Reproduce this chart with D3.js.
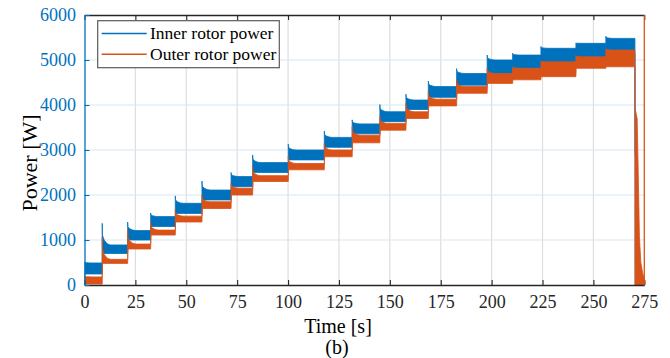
<!DOCTYPE html>
<html>
<head>
<meta charset="utf-8">
<script src="https://cdn.jsdelivr.net/npm/d3@7"></script>
<style>
  html, body { margin: 0; padding: 0; background: #fff; }
  svg { display: block; }
  text { font-family: "Liberation Serif", "Times New Roman", serif; }
</style>
</head>
<body>
<svg id="chart" width="670" height="358"></svg>
<script>
// Axis ticks
const timeTicks = [0, 25, 50, 75, 100, 125, 150, 175, 200, 225, 250, 275];
const powerTicks = [0, 1000, 2000, 3000, 4000, 5000, 6000];

// Load steps: start time of each plateau [s]
const stepTimes = [0, 8.7, 21.2, 32.5, 44.6, 57.7, 72.0, 82.6, 100.1, 117.8, 131.5,
                   145.1, 157.9, 168.9, 182.8, 197.8, 210.3, 224.2, 241.4, 256.1];
const stopTime = 270.4;

// Inner rotor power band per plateau [W]: upper edge, lower edge, spike at step
const innerTop    = [490, 890, 1210, 1520, 1815, 2110, 2410, 2720, 3000, 3280, 3580,
                     3850, 4110, 4410, 4700, 5000, 5110, 5260, 5370, 5480];
const innerBottom = [245, 700, 1000, 1300, 1590, 1890, 2185, 2500, 2780, 3060, 3360,
                     3630, 3900, 4170, 4440, 4700, 4815, 4930, 5040, 5150];
const innerPeak   = [520, 1370, 1400, 1600, 1980, 2310, 2500, 2890, 3130, 3420, 3670,
                     4010, 4240, 4530, 4810, 5110, 5150, 5300, 5380, 5530];

// Outer rotor power band per plateau [W]
const outerTop    = [180, 570, 910, 1220, 1530, 1850, 2150, 2430, 2700, 3000, 3330,
                     3590, 3850, 4130, 4410, 4700, 4815, 4960, 5070, 5220];
const outerBottom = [20, 480, 800, 1110, 1400, 1700, 2000, 2300, 2560, 2850, 3160,
                     3440, 3700, 3980, 4260, 4480, 4560, 4630, 4815, 4850];
const outerPeak   = [200, 1060, 1220, 1400, 1670, 2000, 2260, 2630, 2850, 3150, 3520,
                     3740, 4040, 4300, 4560, 4820, 4850, 4980, 5100, 5250];

// Shut-down transient after the last plateau [s] / [W]
const tailTimes    = [270.45, 271.5, 272.0, 272.6, 273.3, 274.2, 275.2];
const innerTailTop = [3000, 2200, 1300, 600, 300, 150, 60];
const outerTailTop = [3930, 3700, 2550, 1070, 500, 270, 100];

// Decay of the overshoot after each step: time offset [s], share of (peak - top)
const overshoot = [
  { dt: 0.0, k: 1.0 },
  { dt: 0.15, k: 0.45 },
  { dt: 1.0, k: 0.22 },
  { dt: 2.5, k: 0.05 },
  { dt: 4.0, k: 0.0 }
];

const blue = "#0072BD";
const orange = "#D95319";
const serif = "Liberation Serif, Times New Roman, serif";

const svg = d3.select("#chart");
const pLeft = 84.5, pRight = 644.3, pTop = 15, pBottom = 285;

const x = d3.scaleLinear().domain([0, 275]).range([pLeft, pRight]);
const y = d3.scaleLinear().domain([0, 6000]).range([pBottom, pTop]);

// Envelope table (t, hi, lo) for one series
function envelope(tops, bottoms, peaks, tailTops) {
  const rows = [];
  stepTimes.forEach((ts, i) => {
    const te = i + 1 < stepTimes.length ? stepTimes[i + 1] : stopTime;
    const prevLo = i > 0 ? bottoms[i - 1] : 0;
    rows.push({ t: ts, hi: peaks[i], lo: prevLo });
    overshoot.forEach((o, j) => {
      if (j === 0) return;
      rows.push({ t: ts + o.dt, hi: tops[i] + o.k * (peaks[i] - tops[i]), lo: bottoms[i] });
    });
    rows.push({ t: te, hi: tops[i], lo: bottoms[i] });
  });
  tailTimes.forEach((t, i) => rows.push({ t: t, hi: tailTops[i], lo: 0 }));
  return rows;
}

const innerRows = envelope(innerTop, innerBottom, innerPeak, innerTailTop);
const outerRows = envelope(outerTop, outerBottom, outerPeak, outerTailTop);

svg.append("defs").append("clipPath").attr("id", "plotClip")
  .append("rect").attr("x", pLeft).attr("y", pTop)
  .attr("width", pRight - pLeft + 2).attr("height", pBottom - pTop);

// Grid
const grid = svg.append("g");
grid.selectAll("line.vg").data(timeTicks.slice(1, -1)).join("line")
  .attr("x1", d => x(d)).attr("x2", d => x(d))
  .attr("y1", pTop).attr("y2", pBottom)
  .attr("stroke", "#dedede").attr("stroke-width", 1.2);
grid.selectAll("line.hg").data(powerTicks.slice(1, -1)).join("line")
  .attr("x1", pLeft).attr("x2", pRight)
  .attr("y1", d => y(d)).attr("y2", d => y(d))
  .attr("stroke", "#d6e8f4").attr("stroke-width", 1.2);

// Data bands
const area = d3.area().x(d => x(d.t)).y0(d => y(d.lo)).y1(d => y(d.hi));
const plot = svg.append("g").attr("clip-path", "url(#plotClip)");
plot.append("path").datum(innerRows).attr("d", area)
  .attr("fill", blue).attr("stroke", blue).attr("stroke-width", 0.8);
plot.append("path").datum(outerRows).attr("d", area)
  .attr("fill", orange).attr("stroke", orange).attr("stroke-width", 0.8);

// Axes
const fontTick = 18;
const fmt = d3.format("d");
const xAxisB = d3.axisBottom(x).tickValues(timeTicks).tickFormat(fmt)
  .tickSizeInner(-5).tickSizeOuter(0).tickPadding(10);
const gxb = svg.append("g").attr("transform", `translate(0,${pBottom})`).call(xAxisB)
  .attr("font-family", serif).attr("font-size", fontTick);
gxb.select(".domain").attr("stroke", "#262626").attr("stroke-width", 1.3);
gxb.selectAll(".tick line").attr("stroke", "#262626").attr("stroke-width", 1.1);
gxb.selectAll(".tick text").attr("fill", "#262626");

const xAxisT = d3.axisTop(x).tickValues(timeTicks).tickSizeInner(-5).tickSizeOuter(0).tickFormat("");
const gxt = svg.append("g").attr("transform", `translate(0,${pTop})`).call(xAxisT);
gxt.select(".domain").attr("stroke", "#262626").attr("stroke-width", 1.3);
gxt.selectAll(".tick line").attr("stroke", "#262626").attr("stroke-width", 1.1);

const yAxisL = d3.axisLeft(y).tickValues(powerTicks).tickFormat(fmt)
  .tickSizeInner(-5).tickSizeOuter(0).tickPadding(8.5);
const gyl = svg.append("g").attr("transform", `translate(${pLeft},0)`).call(yAxisL)
  .attr("font-family", serif).attr("font-size", fontTick);
gyl.select(".domain").attr("stroke", blue).attr("stroke-width", 1.3);
gyl.selectAll(".tick line").attr("stroke", blue).attr("stroke-width", 1.1);
gyl.selectAll(".tick text").attr("fill", blue);

// Right-hand axis line
svg.append("line").attr("x1", pRight).attr("x2", pRight).attr("y1", pTop).attr("y2", pBottom)
  .attr("stroke", orange).attr("stroke-width", 1.3);

// Axis titles
svg.append("text").attr("x", 338).attr("y", 333).attr("text-anchor", "middle")
  .style("font-size", "20px").attr("fill", "#000").text("Time [s]");
svg.append("text").attr("transform", "translate(37,163) rotate(-90)").attr("text-anchor", "middle")
  .style("font-size", "22px").attr("fill", "#000").text("Power [W]");
svg.append("text").attr("x", 337).attr("y", 354).attr("text-anchor", "middle")
  .style("font-size", "20px").attr("fill", "#000").text("(b)");

// Legend
const legend = svg.append("g");
legend.append("rect").attr("x", 97.7).attr("y", 20.7).attr("width", 181.6).attr("height", 47)
  .attr("fill", "#fff").attr("stroke", "#5a5a5a").attr("stroke-width", 1.2);
const items = [{ name: "Inner rotor power", color: blue }, { name: "Outer rotor power", color: orange }];
items.forEach((it, i) => {
  const yy = 33.5 + i * 20.7;
  legend.append("line").attr("x1", 101.7).attr("x2", 146.7).attr("y1", yy).attr("y2", yy)
    .attr("stroke", it.color).attr("stroke-width", 1.6);
  legend.append("text").attr("x", 150).attr("y", yy + 5.5)
    .style("font-size", "17.5px").attr("fill", "#000").text(it.name);
});
</script>
</body>
</html>
